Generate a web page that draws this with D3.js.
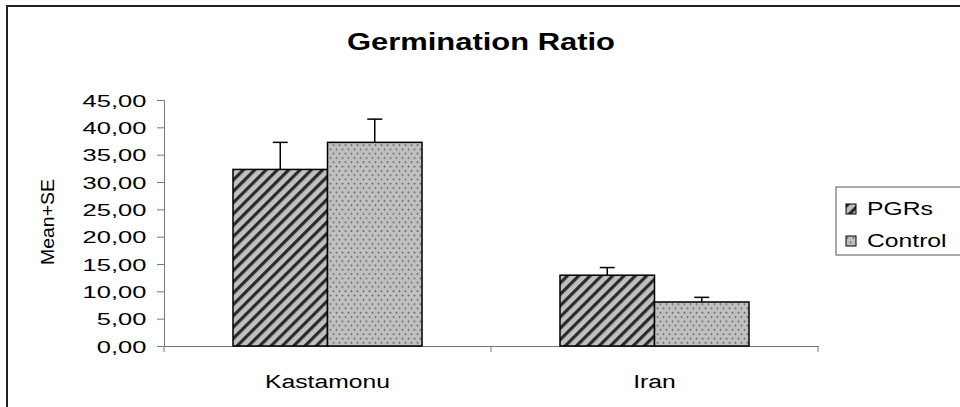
<!DOCTYPE html>
<html>
<head>
<meta charset="utf-8">
<script src="https://cdn.jsdelivr.net/npm/d3@7"></script>
<style>
  body { margin: 0; background: #fff; }
  svg { display: block; font-family: "Liberation Sans", Arial, sans-serif; }
</style>
</head>
<body>
<div id="chart"></div>
<script>
// data
var categories = ["Kastamonu", "Iran"];
var series = ["PGRs", "Control"];
var pgrsMean = [32.3, 12.95];
var pgrsSE = [4.95, 1.4];
var controlMean = [37.25, 8.05];
var controlSE = [4.25, 0.85];
var yTicks = [0, 5, 10, 15, 20, 25, 30, 35, 40, 45];

var w = 960, h = 407;
var margin = { top: 100, left: 164, right: 142, bottom: 61 };
var width = w - margin.left - margin.right;
var height = h - margin.top - margin.bottom;

var rows = [];
categories.forEach(function(c, i){
    rows.push({ cat: c, key: "PGRs", value: pgrsMean[i], se: pgrsSE[i] });
    rows.push({ cat: c, key: "Control", value: controlMean[i], se: controlSE[i] });
});

var svg = d3.select("#chart").append("svg")
    .attr("width", w)
    .attr("height", h);

var defs = svg.append("defs");
var hatch = defs.append("pattern")
    .attr("id", "hatch")
    .attr("patternUnits", "userSpaceOnUse")
    .attr("width", 8).attr("height", 8)
    .attr("patternTransform", "rotate(45)");
hatch.append("rect").attr("width", 8).attr("height", 8).attr("fill", "#c0c0c0");
hatch.append("rect").attr("width", 3.2).attr("height", 8).attr("fill", "#2a2a2a");

var dots = defs.append("pattern")
    .attr("id", "dots")
    .attr("patternUnits", "userSpaceOnUse")
    .attr("width", 6).attr("height", 8.6);
dots.append("rect").attr("width", 6).attr("height", 8.6).attr("fill", "#c0c0c0");
dots.append("circle").attr("cx", 1.5).attr("cy", 2).attr("r", 0.9).attr("fill", "#555");
dots.append("circle").attr("cx", 4.5).attr("cy", 6.3).attr("r", 0.9).attr("fill", "#555");

var fills = { PGRs: "url(#hatch)", Control: "url(#dots)" };

// outer frame (runs off the right and bottom edge)
svg.append("rect")
    .attr("x", 7).attr("y", 6)
    .attr("width", 1000).attr("height", 500)
    .attr("fill", "none")
    .attr("stroke", "#222")
    .attr("stroke-width", 2);

// title
svg.append("text")
    .attr("x", 481).attr("y", 50)
    .attr("text-anchor", "middle")
    .attr("font-size", 23)
    .attr("font-weight", "bold")
    .attr("textLength", 268)
    .attr("lengthAdjust", "spacingAndGlyphs")
    .text("Germination Ratio");

var chart = svg.append("g")
    .attr("transform", "translate(" + margin.left + "," + margin.top + ")");

var x0 = d3.scaleBand().domain(categories).range([0, width]).padding(0);
var x1 = d3.scaleBand().domain(series).range([0, x0.bandwidth()])
    .paddingInner(0).paddingOuter(0.73);
var y = d3.scaleLinear().domain([0, 45]).range([height, 0]);

var locale = d3.formatLocale({ decimal: ",", thousands: ".", grouping: [3], currency: ["", ""] });
var fmt = locale.format(".2f");

// y axis
var yAxis = d3.axisLeft(y).tickValues(yTicks).tickFormat(fmt).tickSizeOuter(0).tickSize(7);
var gy = chart.append("g").call(yAxis);
gy.select(".domain").attr("stroke", "#777");
gy.selectAll(".tick line").attr("stroke", "#777");
gy.selectAll(".tick text")
    .attr("x", -11.8)
    .attr("font-size", 17)
    .attr("fill", "#000")
    .attr("transform", "scale(1.5,1)")
    .attr("dy", "0.36em");

// x axis
var xAxis = d3.axisBottom(x0).tickSize(0).tickFormat("");
var gx = chart.append("g")
    .attr("transform", "translate(0," + height + ")")
    .call(xAxis);
gx.select(".domain").attr("stroke", "#777");
var xt = [0].concat(categories.map(function(c){ return x0(c) + x0.bandwidth(); }));
gx.selectAll(".sep").data(xt).enter().append("line")
    .attr("x1", function(d){ return d; }).attr("x2", function(d){ return d; })
    .attr("y1", 0).attr("y2", 6)
    .attr("stroke", "#777");

// category labels
chart.selectAll(".catlabel").data(categories).enter().append("text")
    .attr("class", "catlabel")
    .attr("text-anchor", "middle")
    .attr("font-size", 19)
    .attr("transform", function(d){
        return "translate(" + (x0(d) + x0.bandwidth() / 2) + "," + (height + 42) + ") scale(1.3,1)";
    })
    .text(function(d){ return d; });

// bars
chart.selectAll(".bar").data(rows).enter().append("rect")
    .attr("class", "bar")
    .attr("x", function(d){ return x0(d.cat) + x1(d.key); })
    .attr("y", function(d){ return y(d.value); })
    .attr("width", x1.bandwidth())
    .attr("height", function(d){ return height - y(d.value); })
    .attr("fill", function(d){ return fills[d.key]; })
    .attr("stroke", "#000")
    .attr("stroke-width", 1.5);

// error bars (upper only)
var eb = chart.selectAll(".err").data(rows).enter().append("g").attr("class", "err");
eb.append("line")
    .attr("x1", function(d){ return x0(d.cat) + x1(d.key) + x1.bandwidth() / 2; })
    .attr("x2", function(d){ return x0(d.cat) + x1(d.key) + x1.bandwidth() / 2; })
    .attr("y1", function(d){ return y(d.value); })
    .attr("y2", function(d){ return y(d.value + d.se); })
    .attr("stroke", "#000").attr("stroke-width", 1.5);
eb.append("line")
    .attr("x1", function(d){ return x0(d.cat) + x1(d.key) + x1.bandwidth() / 2 - 7.5; })
    .attr("x2", function(d){ return x0(d.cat) + x1(d.key) + x1.bandwidth() / 2 + 7.5; })
    .attr("y1", function(d){ return y(d.value + d.se); })
    .attr("y2", function(d){ return y(d.value + d.se); })
    .attr("stroke", "#000").attr("stroke-width", 1.5);

// y label
svg.append("text")
    .attr("transform", "translate(54,222) rotate(-90)")
    .attr("text-anchor", "middle")
    .attr("font-size", 19)
    .attr("textLength", 86)
    .attr("lengthAdjust", "spacingAndGlyphs")
    .text("Mean+SE");

// legend
var legend = svg.append("g").attr("transform", "translate(836,187)");
legend.append("rect")
    .attr("width", 130).attr("height", 68)
    .attr("fill", "#fff")
    .attr("stroke", "#555").attr("stroke-width", 1);
var li = legend.selectAll(".item").data(series).enter().append("g")
    .attr("transform", function(d, i){ return "translate(10," + (17 + i * 32) + ")"; });
li.append("rect")
    .attr("width", 10).attr("height", 10)
    .attr("fill", function(d){ return fills[d]; })
    .attr("stroke", "#000").attr("stroke-width", 1);
li.append("text")
    .attr("font-size", 19)
    .attr("transform", "translate(21,11) scale(1.3,1)")
    .text(function(d){ return d; });
</script>
</body>
</html>
